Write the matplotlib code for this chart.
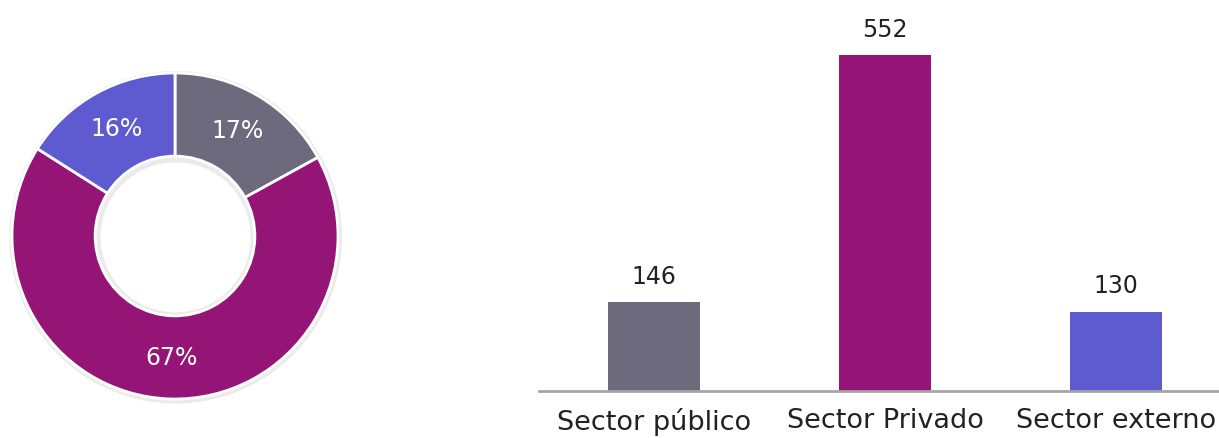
import matplotlib.pyplot as plt
from matplotlib.patches import Wedge
import numpy as np

# datos
categorias = ["Sector público", "Sector Privado", "Sector externo"]
valores = [146, 552, 130]
porcentajes = [17, 67, 16]
colores = ["#6E6A7E", "#951577", "#5E5BD0"]

plt.rcParams['font.family'] = ['DejaVu Sans']

W, H = 1219, 438
fig = plt.figure(figsize=(W / 100, H / 100), dpi=100)

# ---- dona ----
cx, cy, r = 175, 236, 163
lim = 1.05
size = 2 * lim * r
ax1 = fig.add_axes([(cx - size / 2) / W, (H - cy - size / 2) / H, size / W, size / H])
# sombra suave (anillo)
ax1.add_patch(Wedge((0.004, -0.008), 1.02, 0, 360, width=0.56, color="black", alpha=0.08, lw=0))
wedges, _ = ax1.pie(porcentajes, colors=colores, startangle=90, counterclock=False,
                    radius=1, wedgeprops=dict(width=0.51, edgecolor="white", linewidth=2))
for p, w in zip(porcentajes, wedges):
    mid = np.deg2rad((w.theta1 + w.theta2) / 2)
    ax1.text(0.75 * np.cos(mid), 0.75 * np.sin(mid), f"{p}%", color="white",
             fontsize=17, ha="center", va="center")
ax1.set_xlim(-lim, lim)
ax1.set_ylim(-lim, lim)
ax1.set_aspect("equal")
ax1.axis("off")

# ---- barras ----
x0, x1 = 538.5, 1219
base = 391
ymax = 600
px_per = 336 / 552
top = base - ymax * px_per
ax2 = fig.add_axes([x0 / W, (H - base) / H, (x1 - x0) / W, (base - top) / H])
pos = range(len(categorias))
barras = ax2.bar(pos, valores, width=0.4, color=colores)
for b, v in zip(barras, valores):
    ax2.text(b.get_x() + b.get_width() / 2, v + 22, str(v), ha="center", va="bottom",
             fontsize=17, color="#222222", clip_on=False)
ax2.set_xlim(-0.5, (x1 - 654) / 231)
ax2.set_ylim(0, ymax)
ax2.set_xticks(list(pos))
ax2.set_xticklabels(categorias, fontsize=19.5, color="#222222")
ax2.tick_params(axis="x", length=0, pad=12)
ax2.set_yticks([])
for s in ["top", "right", "left"]:
    ax2.spines[s].set_visible(False)
ax2.spines["bottom"].set_color("#A6A6A6")
ax2.spines["bottom"].set_linewidth(2)

fig.savefig("out.png", dpi=100)
